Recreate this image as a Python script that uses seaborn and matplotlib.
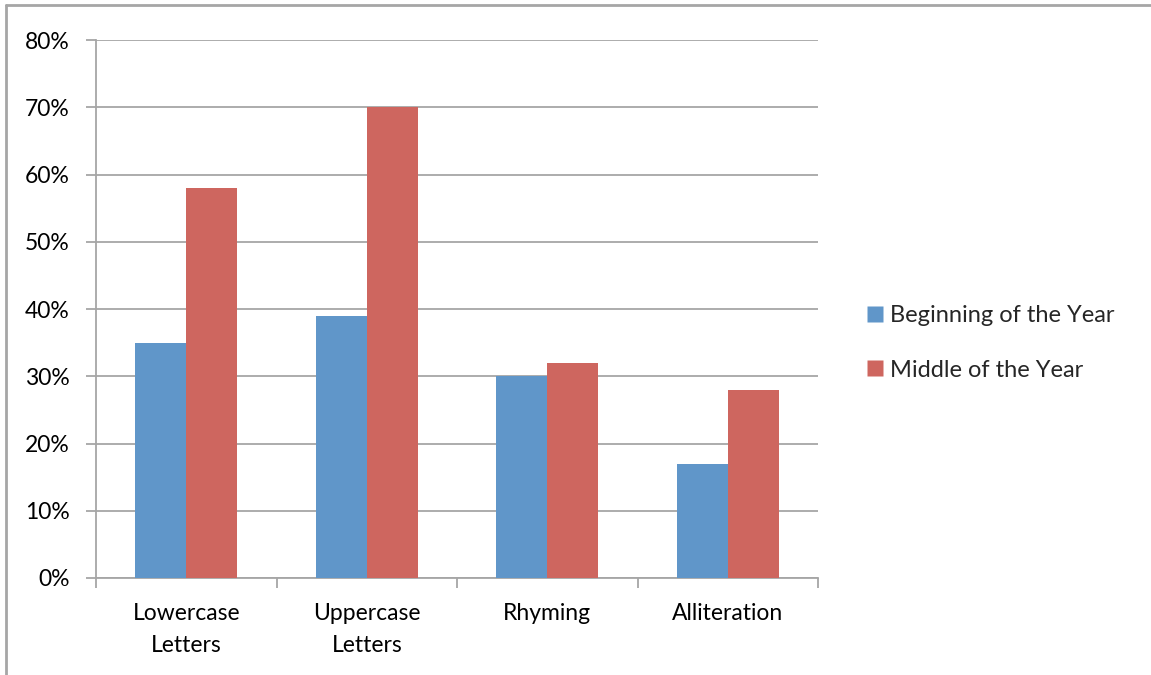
import pandas as pd
import matplotlib
matplotlib.use('Agg')
import matplotlib.pyplot as plt
import seaborn as sns
from matplotlib.lines import Line2D
from matplotlib.ticker import FuncFormatter, FixedLocator

sns.set_theme(style="white")
plt.rcParams['font.family'] = ['Lato', 'DejaVu Sans']

# chart data
categories = ['Lowercase\nLetters', 'Uppercase\nLetters', 'Rhyming', 'Alliteration']
series_names = ['Beginning of the Year', 'Middle of the Year']
beginning = [0.35, 0.39, 0.30, 0.17]
middle = [0.58, 0.70, 0.32, 0.28]
y_ticks = [0, 0.1, 0.2, 0.3, 0.4, 0.5, 0.6, 0.7, 0.8]

rows = []
for cat, b, m in zip(categories, beginning, middle):
    rows.append({'Skill': cat, 'Period': series_names[0], 'Value': b})
    rows.append({'Skill': cat, 'Period': series_names[1], 'Value': m})
df = pd.DataFrame(rows)

palette = {series_names[0]: '#6096C9', series_names[1]: '#CE665F'}
grid_col = '#A6A6A6'

fig = plt.figure(figsize=(11.51, 6.75), dpi=100)
ax = fig.add_axes([96 / 1151, 1 - 578 / 675, (818 - 96) / 1151, (578 - 40) / 675])

sns.barplot(data=df, x='Skill', y='Value', hue='Period', palette=palette,
            order=categories, hue_order=series_names, width=0.567,
            saturation=1, ax=ax, legend=False, zorder=3)
for p in ax.patches:
    p.set_edgecolor('none')

ax.set_xlim(-0.5, len(categories) - 0.5)
ax.set_ylim(0, 0.8)
ax.set_yticks(y_ticks)
ax.yaxis.set_major_formatter(FuncFormatter(lambda v, _: f"{v * 100:.0f}%"))
ax.yaxis.grid(True, color=grid_col, linewidth=1.3, zorder=0)
ax.set_axisbelow(True)

for s in ['top', 'right']:
    ax.spines[s].set_visible(False)
for s in ['left', 'bottom']:
    ax.spines[s].set_color(grid_col)
    ax.spines[s].set_linewidth(1.3)

ax.tick_params(axis='y', which='major', length=7, width=1.3, color=grid_col,
               labelsize=16.5, pad=12, left=True, labelcolor='black')
ax.xaxis.set_minor_locator(FixedLocator([i - 0.5 for i in range(len(categories) + 1)]))
ax.tick_params(axis='x', which='minor', length=7, width=1.3, color=grid_col, bottom=True)
ax.tick_params(axis='x', which='major', length=0, labelsize=16.5, pad=18, labelcolor='black')
for lbl in ax.get_xticklabels():
    lbl.set_linespacing(1.65)
ax.set_xlabel('')
ax.set_ylabel('')

handles = [Line2D([0], [0], marker='s', color='none', markerfacecolor=palette[n],
                  markeredgecolor='none', markersize=11, label=n) for n in series_names]
fig.legend(handles=handles, loc='center left', bbox_to_anchor=(855 / 1151, 1 - 343 / 675),
           frameon=False, fontsize=17, handlelength=0.7, handletextpad=0.3,
           labelspacing=1.4, borderpad=0)

# outer chart border (top and left edges visible in the reference)
fig.add_artist(Line2D([6 / 1151, 6 / 1151], [0, 1 - 5 / 675], transform=fig.transFigure,
                      color='#A6A6A6', linewidth=2))
fig.add_artist(Line2D([6 / 1151, 1], [1 - 5 / 675, 1 - 5 / 675], transform=fig.transFigure,
                      color='#A6A6A6', linewidth=2))

fig.savefig('out.png', dpi=100)
